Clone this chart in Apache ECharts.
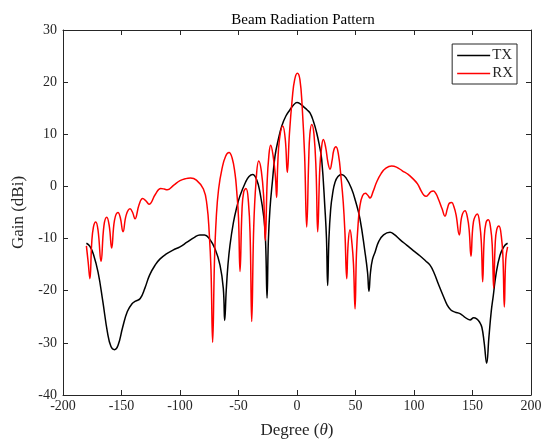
<!DOCTYPE html>
<html>
<head>
<meta charset="utf-8">
<title>Beam Radiation Pattern</title>
<script src="https://cdn.jsdelivr.net/npm/echarts@6/dist/echarts.min.js"></script>
<style>
  html, body { margin: 0; padding: 0; background: #fff; }
  #main { width: 554px; height: 444px; }
</style>
</head>
<body>
<div id="main"></div>
<script>
// TX pattern (black): angle in degrees, gain in dBi
var txDeg = [-180, -177, -174, -170, -166, -162, -159, -156, -153, -149, -145, -141, -138, -134, -130, -126, -121, -117, -112, -106, -100, -94, -88, -83, -79, -75, -70, -65.8, -63, -61.8, -60.5, -59, -57.3, -54.4, -51.5, -48.7, -44, -41, -37.9, -34.5, -31.6, -28.2, -26.8, -25.6, -24.5, -23.1, -21, -18.8, -16, -13, -9.5, -6, -3, 0, 3, 6, 8.5, 11.1, 14, 16.8, 19, 21.1, 23.9, 25.2, 26.2, 27.3, 28.8, 30.5, 32.5, 35, 38.2, 42, 46.7, 50, 53.8, 58.1, 60.3, 61.5, 62.8, 64.5, 66.7, 70, 74, 79.5, 83, 88, 94, 99.4, 105, 110, 113.7, 117, 121, 125, 128.5, 131.5, 135, 139.3, 143, 147.9, 151, 153.6, 156, 158, 160, 162.1, 164, 166, 167.8, 170, 173.5, 177, 180];
var txGain = [-10.9, -11.5, -13, -16.5, -22, -28, -30.7, -31.3, -30.5, -27, -24, -22.5, -22.0, -21.5, -19.5, -17, -15, -13.9, -13, -12.2, -11.6, -10.7, -9.8, -9.3, -9.3, -10, -12, -15.1, -19.5, -25.7, -20, -15, -11.3, -7, -4, -1.8, 0.8, 1.9, 2.3, 1.3, -1.2, -6.2, -11, -21.4, -10.5, -4.3, 1, 5.8, 9, 11.6, 13.5, 14.7, 15.6, 16.1, 15.8, 15.2, 14.7, 14.1, 12.5, 10.3, 8, 5.2, -4.3, -10, -19.0, -10, -4.3, -1.3, 0.8, 1.9, 2.3, 1.6, -0.5, -2.8, -6.2, -12.6, -16.5, -20.1, -16.5, -14, -12.6, -10.5, -9.3, -8.8, -9.2, -10.2, -11.3, -12.3, -13.3, -14.3, -15.1, -16.5, -18.8, -21, -22.8, -23.7, -24.1, -24.4, -25, -25.6, -25.2, -25.4, -26, -27, -30, -33.9, -29, -24, -20.9, -17, -13.2, -11.5, -10.9];

// RX pattern (red)
var rxDeg = [-180, -178.5, -177, -175.5, -174, -172, -170, -167.5, -165, -162.6, -160.5, -158.4, -156, -153, -151, -148.7, -146, -142.7, -140.5, -138.5, -135, -131.9, -129, -126.5, -121, -116.5, -113.5, -110.9, -105, -100, -95, -91, -86, -80, -77, -75, -73.5, -72.1, -70.5, -69, -67, -64, -61, -58.1, -55.5, -53, -51.5, -50, -48.7, -47, -45.5, -43.6, -41.5, -40, -38.7, -37, -35, -32.7, -30.5, -28.5, -27.1, -25.5, -24, -22.5, -20.5, -18.5, -17.4, -16.5, -15, -12.2, -10, -8.3, -6.5, -4, -2, 0.3, 2.5, 4.5, 6.5, 8.3, 10, 11, 12.6, 14.5, 16.3, 17.7, 19.5, 21, 22.5, 24.5, 26.5, 28.2, 30, 31.5, 33.3, 35.5, 37.5, 39.5, 41, 42.5, 43.7, 45.3, 47, 48.3, 49.6, 50.8, 52.3, 53.8, 56, 58.4, 60.5, 62.4, 65, 68, 72, 76, 80.9, 85, 90, 95, 99.4, 103, 106, 108.5, 110.3, 112.5, 114.5, 116.5, 118.5, 121, 124, 126.5, 128.5, 130.3, 132.2, 134, 136, 138.7, 140.8, 143.6, 145.7, 147.2, 148.7, 150.8, 154.1, 156.2, 157.6, 158.7, 160, 161.5, 163.5, 165.5, 166.9, 168.1, 169.4, 170.7, 172.6, 174.6, 176, 177.2, 178.4, 180];
var rxGain = [-11.4, -14.5, -17.7, -11, -7.8, -6.8, -8.5, -14.4, -7.5, -5.9, -7.5, -11.8, -6.5, -5.0, -6, -8.7, -5.5, -4.3, -5, -6.2, -3.5, -2.3, -2.8, -3.4, -1.5, -0.4, -0.5, -0.65, 0.3, 1.1, 1.5, 1.6, 1.2, -0.5, -3.5, -9, -16, -29.9, -14, -6, -0.5, 3.5, 5.8, 6.5, 5.5, 2.5, -1, -6, -16.3, -4.5, -1, -0.4, -3, -10, -25.9, -8, 1, 4.9, 3, -2, -10.4, 1, 6, 7.9, 6, 2, -2.1, 4, 9, 11.6, 9, 2.7, 10, 17, 20.5, 21.7, 20.5, 15, 6, -7.8, 5, 10, 11.9, 10, 3, -8.7, 3.5, 7.5, 9.0, 7.5, 4.5, 3.3, 5, 7, 7.6, 6, 2, -3, -9, -17.7, -11, -8.3, -11, -15, -23.5, -13, -7, -3.7, -1.8, -1.3, -1.7, -2.2, -1, 0.8, 2.5, 3.5, 3.9, 3.7, 3.0, 2.3, 1.4, 0.5, -0.8, -1.7, -1.9, -1.5, -1.0, -0.9, -1.3, -2.5, -4.3, -5.7, -4.3, -3.2, -3.1, -3.8, -5.5, -9.3, -5.8, -4.65, -6, -8.5, -13.4, -6.8, -5.3, -7.3, -11, -18.3, -10, -7, -6.4, -8, -11.5, -19.5, -11, -8.3, -7.6, -9.5, -13.5, -23.1, -14, -11.6];

var xTicks = [-200, 200, 50];
var yTicks = [-40, 30, 10];

function pairs(xs, ys) {
    var out = [];
    for (var i = 0; i < xs.length; i++) out.push([xs[i], ys[i]]);
    return out;
}

var chart = echarts.init(document.getElementById('main'));
var axisColor = '#262626';
var font = 'Liberation Serif';

function frameAxis(pos, range) {
    return {
        type: 'value', position: pos, min: range[0], max: range[1], interval: range[2],
        axisLine: { show: true, onZero: false, lineStyle: { color: axisColor } },
        axisTick: { inside: true, length: 5, lineStyle: { color: axisColor } },
        axisLabel: { show: false }, splitLine: { show: false }
    };
}

var option = {
    backgroundColor: '#fff',
    animation: false,
    title: {
        text: 'Beam Radiation Pattern',
        left: 298, top: 8, textAlign: 'center',
        textStyle: { fontFamily: font, fontSize: 15, fontWeight: 'normal', color: '#000' }
    },
    legend: {
        orient: 'vertical',
        right: 37, top: 44,
        backgroundColor: '#fff',
        borderColor: axisColor, borderWidth: 1,
        padding: [4, 4, 3, 5],
        itemGap: 3,
        itemWidth: 33, itemHeight: 14,
        icon: 'path://M0,6.5 L33,6.5 L33,8 L0,8 Z',
        textStyle: { fontFamily: font, fontSize: 15, color: axisColor, padding: [0, 0, 0, -3] },
        data: ['TX', 'RX']
    },
    grid: { left: 63, right: 23, top: 30, bottom: 44 },
    xAxis: [{
        type: 'value', min: xTicks[0], max: xTicks[1], interval: xTicks[2],
        name: 'Degree ({i|θ})', nameLocation: 'middle', nameGap: 27,
        nameTextStyle: { fontFamily: font, fontSize: 17, color: axisColor,
            rich: { i: { fontFamily: font, fontStyle: 'italic', fontSize: 17, color: axisColor } } },
        axisLine: { show: true, onZero: false, lineStyle: { color: axisColor } },
        axisTick: { inside: true, length: 5, lineStyle: { color: axisColor } },
        axisLabel: { fontFamily: font, fontSize: 14, color: axisColor, margin: 4 },
        splitLine: { show: false }
    }, frameAxis('top', xTicks)],
    yAxis: [{
        type: 'value', min: yTicks[0], max: yTicks[1], interval: yTicks[2],
        name: 'Gain (dBi)', nameLocation: 'middle', nameGap: 23,
        nameTextStyle: { fontFamily: font, fontSize: 17, color: axisColor },
        axisLine: { show: true, onZero: false, lineStyle: { color: axisColor } },
        axisTick: { inside: true, length: 5, lineStyle: { color: axisColor } },
        axisLabel: { fontFamily: font, fontSize: 14, color: axisColor, margin: 6 },
        splitLine: { show: false }
    }, frameAxis('right', yTicks)],
    series: [{
        name: 'TX', type: 'line', data: pairs(txDeg, txGain),
        showSymbol: false, symbol: 'none', smooth: 0.45,
        lineStyle: { color: '#000', width: 1.5 }, itemStyle: { color: '#000' }
    }, {
        name: 'RX', type: 'line', data: pairs(rxDeg, rxGain),
        showSymbol: false, symbol: 'none', smooth: 0.45,
        lineStyle: { color: '#ff0000', width: 1.5 }, itemStyle: { color: '#ff0000' }
    }]
};

chart.setOption(option);
</script>
</body>
</html>
